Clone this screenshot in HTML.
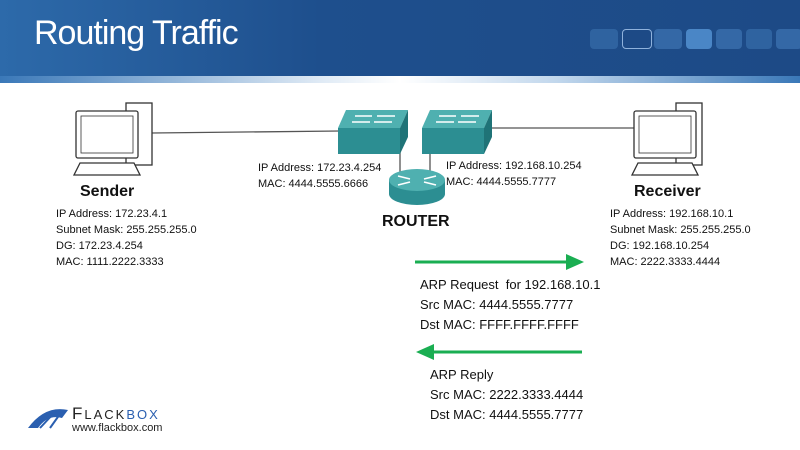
<!DOCTYPE html>
<html><head><style>
body{margin:0;width:800px;height:450px;background:#fff;position:relative;overflow:hidden;font-family:"Liberation Sans",sans-serif;color:#111}
.hdr{position:absolute;left:0;top:0;width:800px;height:80px;background:linear-gradient(90deg,#2d6aaa 0%,#1e4f8d 40%,#1d4a86 100%)}
.strip{position:absolute;left:0;top:76px;width:800px;height:7px;background:linear-gradient(90deg,#3a78b8,#dfeaf5 40%,#ffffff 50%,#c0d6ec 70%,#3a78b8)}
.t{position:absolute;left:34px;top:14px;font-size:34px;color:#fff;letter-spacing:-1px}
.sq{position:absolute;top:29px;height:20px;border-radius:4px;background:#2f63a0}
.a{position:absolute;font-size:11px;line-height:16px}
.b{position:absolute;font-size:16px;font-weight:bold}
.c{position:absolute;font-size:13px;line-height:20px}
</style></head><body>
<div class="hdr"></div><div class="strip"></div>
<div class="t">Routing Traffic</div>
<div class="sq" style="left:590px;width:28px"></div>
<div class="sq" style="left:622px;width:28px;border:1px solid #8fb2dc;background:#1d4a86;height:18px"></div>
<div class="sq" style="left:654px;width:28px;background:#3468a6"></div>
<div class="sq" style="left:686px;width:26px;background:#4a86c6"></div>
<div class="sq" style="left:716px;width:26px;background:#3468a6"></div>
<div class="sq" style="left:746px;width:26px"></div>
<div class="sq" style="left:776px;width:26px;background:#3468a6"></div>
<svg width="800" height="450" style="position:absolute;left:0;top:0">
<g stroke="#555" stroke-width="1.3" fill="none">
<line x1="152" y1="133" x2="340" y2="131"/>
<line x1="490" y1="128" x2="640" y2="128"/>
<line x1="400" y1="145" x2="400" y2="172"/>
<line x1="430" y1="145" x2="430" y2="172"/>
</g>
<!-- sender pc -->
<g stroke="#333" stroke-width="1.3" fill="#fff">
<rect x="126" y="103" width="26" height="62"/>
<rect x="76" y="111" width="62" height="47" rx="2"/>
<rect x="81" y="116" width="52" height="37" stroke-width="0.8"/>
<polygon points="80,163 134,163 140,175 74,175"/>
</g>
<g stroke="#333" stroke-width="1.3" fill="#fff">
<rect x="676" y="103" width="26" height="62"/>
<rect x="634" y="111" width="62" height="47" rx="2"/>
<rect x="639" y="116" width="52" height="37" stroke-width="0.8"/>
<polygon points="638,163 692,163 698,175 632,175"/>
</g>
<!-- switches -->
<g>
<polygon points="346,110 408,110 400,128 338,128" fill="#4fb0b0"/>
<rect x="338" y="128" width="62" height="26" fill="#2c8e92"/>
<polygon points="400,128 408,110 408,137 400,154" fill="#1f7377"/>
<polygon points="430,110 492,110 484,128 422,128" fill="#4fb0b0"/>
<rect x="422" y="128" width="62" height="26" fill="#2c8e92"/>
<polygon points="484,128 492,110 492,137 484,154" fill="#1f7377"/>
<g stroke="#fff" stroke-width="1.5"><line x1="355" y1="116" x2="372" y2="116"/><line x1="377" y1="116" x2="395" y2="116"/><line x1="352" y1="122" x2="370" y2="122"/><line x1="374" y1="122" x2="392" y2="122"/>
<line x1="439" y1="116" x2="456" y2="116"/><line x1="461" y1="116" x2="479" y2="116"/><line x1="436" y1="122" x2="454" y2="122"/><line x1="458" y1="122" x2="476" y2="122"/></g>
<!-- router -->
<path d="M389,180 v14 a28,11 0 0 0 56,0 v-14z" fill="#2c8e92"/>
<ellipse cx="417" cy="180" rx="28" ry="11" fill="#4fb0b0"/>
<g stroke="#fff" stroke-width="1.5"><line x1="398" y1="176" x2="410" y2="179"/><line x1="436" y1="176" x2="424" y2="179"/><line x1="398" y1="185" x2="410" y2="182"/><line x1="436" y1="185" x2="424" y2="182"/></g>
</g>
<!-- arrows -->
<g fill="#1aae52" stroke="#1aae52">
<line x1="415" y1="262" x2="570" y2="262" stroke-width="3"/>
<polygon points="566,254 584,262 566,270" stroke="none"/>
<line x1="430" y1="352" x2="582" y2="352" stroke-width="3"/>
<polygon points="434,344 416,352 434,360" stroke="none"/>
</g>
<!-- logo -->
<path d="M28,428 Q45,405 68,410 L62,418 Q48,414 38,428z" fill="#2a5fb0"/>
<path d="M40,428 L55,412 M50,428 L60,414" stroke="#2a5fb0" stroke-width="2"/>
</svg>
<div class="b" style="left:80px;top:183px">Sender</div>
<div class="a" style="left:56px;top:206px">IP Address: 172.23.4.1<br>Subnet Mask: 255.255.255.0<br>DG: 172.23.4.254<br>MAC: 1111.2222.3333</div>
<div class="b" style="left:634px;top:183px">Receiver</div>
<div class="a" style="left:610px;top:206px">IP Address: 192.168.10.1<br>Subnet Mask: 255.255.255.0<br>DG: 192.168.10.254<br>MAC: 2222.3333.4444</div>
<div class="a" style="left:258px;top:160px">IP Address: 172.23.4.254<br>MAC: 4444.5555.6666</div>
<div class="a" style="left:446px;top:158px">IP Address: 192.168.10.254<br>MAC: 4444.5555.7777</div>
<div class="b" style="left:382px;top:213px">ROUTER</div>
<div class="c" style="left:420px;top:275px">ARP Request&nbsp; for 192.168.10.1<br>Src MAC: 4444.5555.7777<br>Dst MAC: FFFF.FFFF.FFFF</div>
<div class="c" style="left:430px;top:365px">ARP Reply<br>Src MAC: 2222.3333.4444<br>Dst MAC: 4444.5555.7777</div>
<div style="position:absolute;left:72px;top:404px;font-size:17px;letter-spacing:2px;color:#222">F<span style="font-size:13px">LACK</span><span style="color:#2a5fb0;font-size:13px">BOX</span></div>
<div style="position:absolute;left:72px;top:422px;font-size:11px;color:#222">www.flackbox.com</div>
</body></html>
